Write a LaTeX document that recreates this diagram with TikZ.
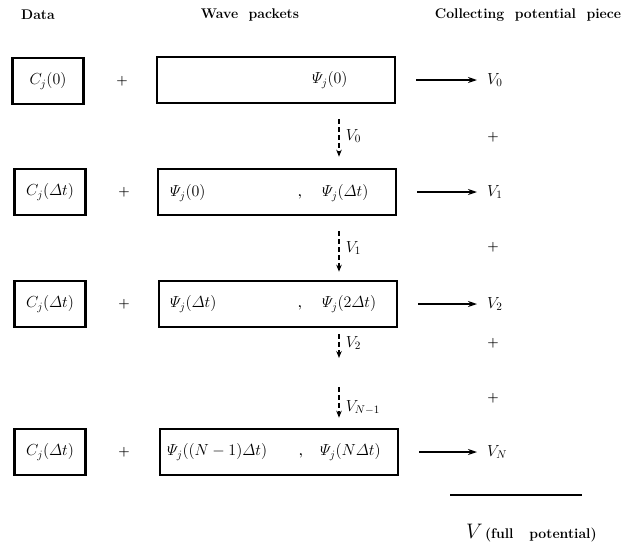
\RequirePackage{fix-cm}
\documentclass[tikz,border=0pt]{standalone}
\usepackage{amsmath,amssymb}
\usetikzlibrary{arrows.meta,positioning,calc}
\newcommand{\Wp}{\varPsi}
\newcommand{\dt}{\varDelta t}
\newcommand{\bigmath}{\fontsize{16}{19}\selectfont}
\newcommand{\headfont}{\fontsize{14}{17}\selectfont\bfseries}
\newcommand{\totfont}{\fontsize{21}{23}\selectfont}

\begin{document}
\begin{tikzpicture}[x=1pt,y=-1pt,
  head/.style={font=\headfont,inner sep=0pt},
  databox/.style={rectangle,draw,line width=2.6pt,minimum width=71pt,minimum height=46pt,inner sep=0pt,font=\bigmath},
  wavebox/.style={rectangle,draw,line width=2.6pt,minimum width=238pt,minimum height=46pt,inner sep=0pt},
  wtext/.style={font=\bigmath,inner sep=0pt,anchor=west},
  plus/.style={font=\fontsize{13}{15}\selectfont\bfseries,inner sep=0pt},
  vlab/.style={font=\bigmath,inner sep=0pt,anchor=west},
  arr/.style={-{Stealth[length=9pt,width=6pt]},line width=1.9pt,shorten <=20pt,shorten >=10pt},
  darr/.style={-{Stealth[length=7pt,width=5.5pt]},line width=1.7pt,dash pattern=on 5pt off 3pt},
  dlab/.style={font=\bigmath,inner sep=0pt,anchor=west,xshift=6pt},
]
  \useasboundingbox (0,0) rectangle (624,547);
  % column heads
  \node[head] (hd) at (38,15) {Data};
  \node[head] (hw) at (250,15) {Wave\ \ packets};
  \node[head] (hc) at (528,15) {Collecting\ \ potential\ \ piece};

  % first row
  \node[databox] (c1) at (48,81) {$C_j(0)$};
  \node[plus] (p1) at (122,81) {+};
  \node[wavebox] (w1) at (276,80) {};
  \node[wtext] (w1r) at (312,80) {$\Wp_j(0)$};
  \node[vlab] (v0) at (487,80) {$V_0$};
  \draw[arr] (w1.east) -- (v0.west);

  % second row
  \node[databox] (c2) at (50,192) {$C_j(\dt)$};
  \node[plus] (p2) at (124,192) {+};
  \node[wavebox] (w2) at (277,192) {};
  \node[wtext] (w2l) at (170,193) {$\Wp_j(0)$};
  \node[plus] (w2c) at (300,197) {,};
  \node[wtext] (w2r) at (322,193) {$\Wp_j(\dt)$};
  \node[vlab] (v1) at (487,192) {$V_1$};
  \draw[arr] (w2.east) -- (v1.west);

  % third row
  \node[databox] (c3) at (50,304) {$C_j(\dt)$};
  \node[plus] (p3) at (124,304) {+};
  \node[wavebox] (w3) at (278,304) {};
  \node[wtext] (w3l) at (170,304) {$\Wp_j(\dt)$};
  \node[plus] (w3c) at (300,308) {,};
  \node[wtext] (w3r) at (322,304) {$\Wp_j(2\dt)$};
  \node[vlab] (v2) at (487,304) {$V_2$};
  \draw[arr] (w3.east) -- (v2.west);

  % last row
  \node[databox] (c4) at (50,452) {$C_j(\dt)$};
  \node[plus] (p4) at (124,452) {+};
  \node[wavebox] (w4) at (279,452) {};
  \node[wtext] (w4l) at (167,452) {$\Wp_j((N-1)\dt)$};
  \node[plus] (w4c) at (301,456) {,};
  \node[wtext] (w4r) at (320,452) {$\Wp_j(N\dt)$};
  \node[vlab] (vn) at (487,452) {$V_N$};
  \draw[arr] (w4.east) -- (vn.west);

  % potential pieces passed down
  \coordinate (dx) at (339,0);
  \coordinate (e2) at (339,358);
  \coordinate (e3) at (339,387);
  \draw[darr,shorten <=15pt,shorten >=11pt] (w1.south -| dx) -- (w2.north -| dx)
    node[dlab,midway] {$V_0$};
  \draw[darr,shorten <=15pt,shorten >=8pt] (w2.south -| dx) -- (w3.north -| dx)
    node[dlab,midway] {$V_1$};
  \draw[darr,shorten <=6pt] (w3.south -| dx) -- (e2)
    node[dlab,midway] {$V_2$};
  \draw[darr,shorten >=10pt] (e3) -- (w4.north -| dx)
    node[dlab,midway] {$V_{N-1}$};

  % plus signs of the sum
  \node[plus] (s1) at (493,137) {+};
  \node[plus] (s2) at (493,247) {+};
  \node[plus] (s3) at (493,343) {+};
  \node[plus] (s4) at (493,398) {+};

  % total
  \coordinate (ta) at (450,495);
  \coordinate (tb) at (582,495);
  \draw[line width=1.7pt] (ta) -- (tb);
  \node[inner sep=0pt,anchor=west,font=\headfont] (vt) at (466,533)
    {{\totfont$V$}\,(full\ \ \ potential)};
\end{tikzpicture}
\end{document}
